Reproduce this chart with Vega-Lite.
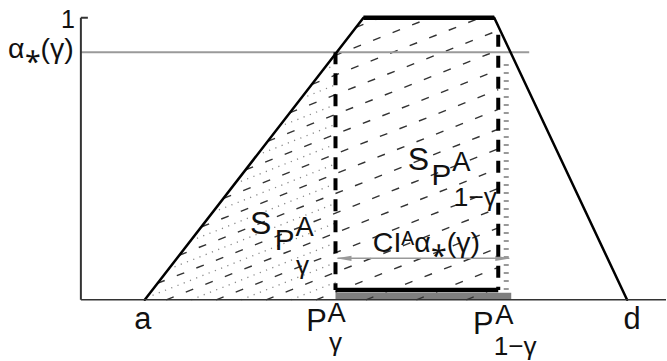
{
  "$schema": "https://vega.github.io/schema/vega-lite/v6.json",
  "width": 667,
  "height": 361,
  "autosize": {"type": "fit", "contains": "padding"},
  "padding": 0,
  "background": "white",
  "config": {"view": {"stroke": null}},
  "encoding": {
    "x": {"field": "x", "type": "quantitative", "scale": {"domain": [-1.62, 11.72], "nice": false, "zero": false}, "axis": null},
    "y": {"field": "y", "type": "quantitative", "scale": {"domain": [-0.1993, 1.0629], "nice": false, "zero": false}, "axis": null}
  },
  "layer": [
    {
      "data": {"values": [{"x": 5.10, "y": 0.0122, "x2": 8.62, "y2": 0.0122}]},
      "mark": {"type": "rule", "color": "#7f7f7f", "strokeWidth": 7},
      "encoding": {"x2": {"field": "x2"}, "y2": {"field": "y2"}}
    },
    {
      "data": {"values": [
        {"x": 7.72, "y": 0, "x2": 8.36, "y2": 0.045},
        {"x": 6.72, "y": 0, "x2": 8.36, "y2": 0.115},
        {"x": 5.71, "y": 0, "x2": 8.36, "y2": 0.185},
        {"x": 4.71, "y": 0, "x2": 8.36, "y2": 0.255},
        {"x": 3.71, "y": 0, "x2": 8.36, "y2": 0.325},
        {"x": 2.71, "y": 0, "x2": 8.36, "y2": 0.395},
        {"x": 1.71, "y": 0, "x2": 8.36, "y2": 0.465},
        {"x": 1.53, "y": 0.058, "x2": 8.36, "y2": 0.535},
        {"x": 1.97, "y": 0.158, "x2": 8.36, "y2": 0.605},
        {"x": 2.42, "y": 0.259, "x2": 8.36, "y2": 0.675},
        {"x": 2.86, "y": 0.36, "x2": 8.36, "y2": 0.745},
        {"x": 3.30, "y": 0.461, "x2": 8.36, "y2": 0.815},
        {"x": 3.74, "y": 0.562, "x2": 8.36, "y2": 0.885},
        {"x": 4.18, "y": 0.663, "x2": 8.36, "y2": 0.955},
        {"x": 4.63, "y": 0.764, "x2": 8.0, "y2": 1},
        {"x": 5.07, "y": 0.865, "x2": 7.0, "y2": 1},
        {"x": 5.51, "y": 0.966, "x2": 6.0, "y2": 1}
      ]},
      "mark": {"type": "rule", "color": "#333333", "strokeWidth": 1.4, "strokeDash": [8, 13]},
      "encoding": {"x2": {"field": "x2"}, "y2": {"field": "y2"}}
    },
    {
      "data": {"values": [
        {"x": 4.21, "y": 0, "x2": 5.10, "y2": 0.062},
        {"x": 3.21, "y": 0, "x2": 5.10, "y2": 0.132},
        {"x": 2.21, "y": 0, "x2": 5.10, "y2": 0.202},
        {"x": 1.31, "y": 0.007, "x2": 5.10, "y2": 0.272},
        {"x": 1.75, "y": 0.108, "x2": 5.10, "y2": 0.342},
        {"x": 2.20, "y": 0.209, "x2": 5.10, "y2": 0.412},
        {"x": 2.64, "y": 0.31, "x2": 5.10, "y2": 0.482},
        {"x": 3.08, "y": 0.411, "x2": 5.10, "y2": 0.552},
        {"x": 3.52, "y": 0.512, "x2": 5.10, "y2": 0.622},
        {"x": 3.96, "y": 0.613, "x2": 5.10, "y2": 0.692},
        {"x": 4.41, "y": 0.713, "x2": 5.10, "y2": 0.762},
        {"x": 4.85, "y": 0.814, "x2": 5.10, "y2": 0.832}
      ]},
      "mark": {"type": "rule", "color": "#888888", "strokeWidth": 1.3, "strokeDash": [1.2, 5.5]},
      "encoding": {"x2": {"field": "x2"}, "y2": {"field": "y2"}}
    },
    {
      "data": {"values": [{"x": 8.52, "y": 0.035, "x2": 8.52, "y2": 0.85}]},
      "mark": {"type": "rule", "color": "#999999", "strokeWidth": 5, "strokeDash": [2, 6]},
      "encoding": {"x2": {"field": "x2"}, "y2": {"field": "y2"}}
    },
    {
      "data": {"values": [{"x": 0, "y": 0.8776, "x2": 8.98, "y2": 0.8776}]},
      "mark": {"type": "rule", "color": "#9a9a9a", "strokeWidth": 2},
      "encoding": {"x2": {"field": "x2"}, "y2": {"field": "y2"}}
    },
    {
      "data": {"values": [{"x": 5.14, "y": 0.1469, "x2": 8.58, "y2": 0.1469}]},
      "mark": {"type": "rule", "color": "#999999", "strokeWidth": 1.5},
      "encoding": {"x2": {"field": "x2"}, "y2": {"field": "y2"}}
    },
    {
      "data": {"values": [{"x": 5.27, "y": 0.1469}]},
      "mark": {"type": "point", "shape": "M1,-0.35L-1,0L1,0.35Z", "filled": true, "color": "#999999", "size": 225, "opacity": 1}
    },
    {
      "data": {"values": [{"x": 8.45, "y": 0.1469}]},
      "mark": {"type": "point", "shape": "M-1,-0.35L1,0L-1,0.35Z", "filled": true, "color": "#999999", "size": 225, "opacity": 1}
    },
    {
      "data": {"values": [
        {"x": 5.10, "y": 0.8776, "x2": 5.10, "y2": 0.035},
        {"x": 8.36, "y": 0.94, "x2": 8.36, "y2": 0.035}
      ]},
      "mark": {"type": "rule", "color": "black", "strokeWidth": 4, "strokeDash": [12, 9]},
      "encoding": {"x2": {"field": "x2"}, "y2": {"field": "y2"}}
    },
    {
      "data": {"values": [{"x": 5.10, "y": 0.035, "x2": 8.36, "y2": 0.035}]},
      "mark": {"type": "rule", "color": "black", "strokeWidth": 4.5},
      "encoding": {"x2": {"field": "x2"}, "y2": {"field": "y2"}}
    },
    {
      "data": {"values": [
        {"x": 1.28, "y": 0, "x2": 5.66, "y2": 1},
        {"x": 8.28, "y": 1, "x2": 10.94, "y2": 0}
      ]},
      "mark": {"type": "rule", "color": "black", "strokeWidth": 2.5, "strokeCap": "round"},
      "encoding": {"x2": {"field": "x2"}, "y2": {"field": "y2"}}
    },
    {
      "data": {"values": [{"x": 5.66, "y": 1, "x2": 8.28, "y2": 1}]},
      "mark": {"type": "rule", "color": "black", "strokeWidth": 4.5},
      "encoding": {"x2": {"field": "x2"}, "y2": {"field": "y2"}}
    },
    {
      "data": {"values": [
        {"x": 0, "y": 0, "x2": 0, "y2": 1},
        {"x": 0, "y": 1, "x2": 0.14, "y2": 1}
      ]},
      "mark": {"type": "rule", "color": "#333333", "strokeWidth": 2},
      "encoding": {"x2": {"field": "x2"}, "y2": {"field": "y2"}}
    },
    {
      "data": {"values": [{"x": 0, "y": 0, "x2": 11.72, "y2": 0}]},
      "mark": {"type": "rule", "color": "#333333", "strokeWidth": 1.5},
      "encoding": {"x2": {"field": "x2"}, "y2": {"field": "y2"}}
    },
    {
      "data": {"values": [
        {"t": "1", "x": -0.26, "y": 0.993, "k": "tiny"},
        {"t": "α⁎(γ)", "x": -0.8, "y": 0.888, "k": "lab"},
        {"t": "S", "x": 3.6, "y": 0.269, "k": "S"},
        {"t": "P", "x": 4.08, "y": 0.21, "k": "main"},
        {"t": "A", "x": 4.48, "y": 0.255, "k": "sup"},
        {"t": "γ", "x": 4.44, "y": 0.119, "k": "sub"},
        {"t": "S", "x": 6.76, "y": 0.4965, "k": "S"},
        {"t": "P", "x": 7.22, "y": 0.438, "k": "main"},
        {"t": "A", "x": 7.62, "y": 0.486, "k": "sup"},
        {"t": "1−γ", "x": 7.9, "y": 0.36, "k": "sub"},
        {"t": "CIᴬα⁎(γ)", "x": 6.92, "y": 0.2028, "k": "lab"},
        {"t": "a", "x": 1.24, "y": -0.0734, "k": "axis"},
        {"t": "d", "x": 11.04, "y": -0.0734, "k": "axis"},
        {"t": "P", "x": 4.72, "y": -0.0804, "k": "axis"},
        {"t": "A", "x": 5.12, "y": -0.049, "k": "sup"},
        {"t": "γ", "x": 5.1, "y": -0.154, "k": "sub"},
        {"t": "P", "x": 8.06, "y": -0.0909, "k": "axis"},
        {"t": "A", "x": 8.48, "y": -0.056, "k": "sup"},
        {"t": "1−γ", "x": 8.7, "y": -0.168, "k": "sub"}
      ]},
      "mark": {"type": "text", "font": "Liberation Sans", "color": "#111111", "align": "center", "baseline": "middle"},
      "encoding": {
        "text": {"field": "t"},
        "size": {"field": "k", "type": "nominal", "legend": null, "scale": {"domain": ["S", "axis", "main", "lab", "sup", "sub", "tiny"], "range": [32, 25, 23, 20, 19, 17, 12]}}
      }
    }
  ]
}
